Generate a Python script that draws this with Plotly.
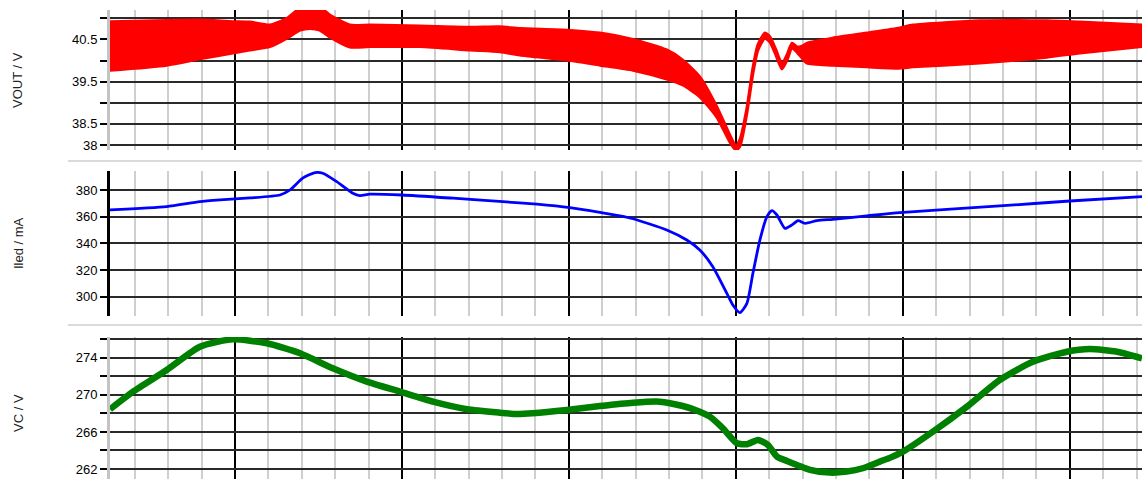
import plotly.graph_objects as go

# ---------------- data ----------------
# time axis: arbitrary units, one minor grid division = 1, major = 5
t_vout = [1.26, 2.96, 3.95, 4.94, 5.45, 6.05, 6.56, 6.95, 7.25, 7.54, 7.84, 8.44, 9.04,
          10.54, 12.04, 12.93, 13.53, 14.94, 15.93, 16.92, 17.93, 18.41, 18.92, 19.43,
          19.82, 20.00, 20.12, 20.33, 20.51, 20.66, 20.87, 21.02, 21.20, 21.38, 21.53,
          21.68, 21.83, 21.98, 22.13, 22.90, 23.92, 24.91, 25.30, 27.31, 29.31, 30.30, 32.16]
vout_upper = [40.92, 40.95, 40.96, 40.92, 40.91, 40.84, 41.00, 41.24, 41.29, 41.27, 41.08,
              40.84, 40.84, 40.82, 40.79, 40.80, 40.76, 40.72, 40.65, 40.50, 40.25, 40.01,
              39.61, 38.90, 38.23, 37.97, 38.12, 38.87, 39.82, 40.37, 40.65, 40.56, 40.25,
              39.92, 40.13, 40.41, 40.32, 40.34, 40.41, 40.53, 40.65, 40.77, 40.84, 40.94,
              40.94, 40.91, 40.84]
vout_lower = [39.77, 39.89, 40.04, 40.18, 40.25, 40.33, 40.53, 40.72, 40.76, 40.72, 40.56,
              40.32, 40.33, 40.33, 40.25, 40.21, 40.13, 40.01, 39.89, 39.77, 39.56, 39.42,
              39.14, 38.66, 38.07, 37.88, 37.97, 38.76, 39.70, 40.25, 40.53, 40.44, 40.13,
              39.80, 40.01, 40.30, 40.20, 40.06, 39.94, 39.89, 39.85, 39.82, 39.85, 39.94,
              40.08, 40.18, 40.33]

t_iled = [1.26, 2.96, 3.95, 4.55, 5.45, 6.35, 6.65, 7.04, 7.40, 7.63, 8.05, 8.53, 8.74, 9.04,
          10.00, 11.53, 13.02, 14.04, 15.03, 15.93, 16.53, 16.92, 17.93, 18.53, 18.92, 19.31,
          19.73, 19.91, 20.12, 20.33, 20.51, 20.72, 20.93, 21.08, 21.23, 21.47, 21.68, 21.86,
          22.07, 22.43, 22.90, 23.92, 24.91, 27.90, 30.00, 32.16]
iled = [365.0, 367.5, 371.2, 372.5, 374.0, 376.2, 380.0, 389.0, 393.0, 392.5, 386.2, 377.5,
        375.7, 376.8, 376.2, 373.8, 371.2, 369.3, 366.7, 363.2, 360.6, 358.4, 350.0, 342.5,
        335.0, 322.5, 302.5, 293.7, 288.0, 295.0, 317.5, 342.5, 360.0, 364.5, 361.2, 351.2,
        353.8, 357.0, 355.0, 357.0, 358.0, 360.5, 363.0, 368.0, 371.7, 375.0]

t_vc = [1.26, 1.95, 2.96, 3.95, 4.94, 5.96, 6.95, 7.93, 8.95, 9.94, 10.93, 11.95, 12.93,
        13.44, 13.92, 14.94, 15.93, 16.92, 17.72, 18.41, 18.92, 19.22, 19.61, 20.03, 20.33,
        20.66, 20.96, 21.23, 21.53, 21.83, 22.22, 22.81, 23.32, 23.80, 24.31, 24.61, 25.00,
        25.90, 26.92, 27.90, 28.89, 29.91, 30.60, 31.41, 32.16]
vc = [268.45, 270.35, 272.69, 275.2, 276.0, 275.57, 274.49, 272.87, 271.43, 270.35, 269.27,
      268.45, 268.08, 267.94, 268.02, 268.37, 268.80, 269.16, 269.27, 268.80, 268.19, 267.65,
      266.40, 264.78, 264.67, 265.14, 264.60, 263.34, 262.87, 262.44, 261.90, 261.61, 261.72,
      262.08, 262.80, 263.20, 263.87, 266.03, 268.73, 271.61, 273.58, 274.66, 274.95, 274.66,
      273.95]

vout_ticks = [38, 38.5, 39, 39.5, 40, 40.5, 41]
vout_ticktext = ["38", "38.5", "", "39.5", "", "40.5", ""]
iled_ticks = [300, 320, 340, 360, 380]
iled_ticktext = ["300", "320", "340", "360", "380"]
vc_ticks = [262, 264, 266, 268, 270, 272, 274, 276]
vc_ticktext = ["262", "", "266", "", "270", "", "274", ""]

y_titles = ["VOUT / V", "Iled / mA", "VC / V"]

# ---------------- figure ----------------
fig = go.Figure()

spl = dict(shape="spline", smoothing=0.6)
fig.add_trace(go.Scatter(x=t_vout, y=vout_lower, mode="lines",
                         line=dict(color="#ff0000", width=3, **spl),
                         xaxis="x", yaxis="y", hoverinfo="skip"))
fig.add_trace(go.Scatter(x=t_vout, y=vout_upper, mode="lines", fill="tonexty",
                         fillcolor="#ff0000",
                         line=dict(color="#ff0000", width=3, **spl),
                         xaxis="x", yaxis="y", hoverinfo="skip"))
fig.add_trace(go.Scatter(x=t_iled, y=iled, mode="lines",
                         line=dict(color="#0000ff", width=2.8, **spl),
                         xaxis="x2", yaxis="y2", hoverinfo="skip"))
fig.add_trace(go.Scatter(x=t_vc, y=vc, mode="lines",
                         line=dict(color="#008000", width=6.5, **spl),
                         xaxis="x3", yaxis="y3", hoverinfo="skip"))

font = dict(family="Liberation Sans, Arial, sans-serif", size=13, color="#000000")

def xax(anchor):
    return dict(anchor=anchor, domain=[110 / 1142, 1.0], range=[1.26, 32.16],
                tick0=0, dtick=5, showgrid=True, gridcolor="#000000", gridwidth=1.6,
                minor=dict(tick0=0, dtick=1, showgrid=True, gridcolor="#cfcfcf", gridwidth=2),
                showticklabels=False, ticks="", zeroline=False, showline=False)

def yax(anchor, dom, rng, tv, tt, linecolor):
    return dict(anchor=anchor, domain=dom, range=rng, tickmode="array",
                tickvals=tv, ticktext=tt, showgrid=True, gridcolor="#2a2a2a",
                gridwidth=1.5, ticks="outside", ticklen=7, tickwidth=1.5,
                tickcolor="#000000", showline=True, linecolor=linecolor, linewidth=3,
                zeroline=False, tickfont=font)

fig.update_layout(
    template="none",
    width=1142, height=480,
    margin=dict(l=0, r=0, t=0, b=0),
    paper_bgcolor="white", plot_bgcolor="white",
    showlegend=False,
    hovermode=False,
    xaxis=xax("y"), xaxis2=xax("y2"), xaxis3=xax("y3"),
    yaxis=yax("x", [1 - 150 / 480, 1 - 10 / 480], [37.88, 41.197],
              vout_ticks, vout_ticktext, "#c4c4c4"),
    yaxis2=yax("x2", [1 - 316 / 480, 1 - 171 / 480], [285.5, 394.2],
               iled_ticks, iled_ticktext, "#000000"),
    yaxis3=yax("x3", [1 - 479 / 480, 1 - 337 / 480], [260.92, 276.25],
               vc_ticks, vc_ticktext, "#c4c4c4"),
)

for txt, yc in zip(y_titles, [80, 243, 413]):
    fig.add_annotation(text=txt, xref="paper", yref="paper", x=18 / 1142, y=1 - yc / 480,
                       xanchor="center", yanchor="middle", textangle=-90, showarrow=False,
                       font=dict(family="Liberation Sans, Arial, sans-serif", size=13,
                                 color="#222222"))

for yp in [161, 325]:
    fig.add_shape(type="line", xref="paper", yref="paper", x0=68 / 1142, x1=1,
                  y0=1 - yp / 480, y1=1 - yp / 480,
                  line=dict(color="#dadada", width=2))

fig.write_html("out.html", config={"displayModeBar": False},
               post_script="document.body.style.margin='0';document.body.style.overflow='hidden';")
